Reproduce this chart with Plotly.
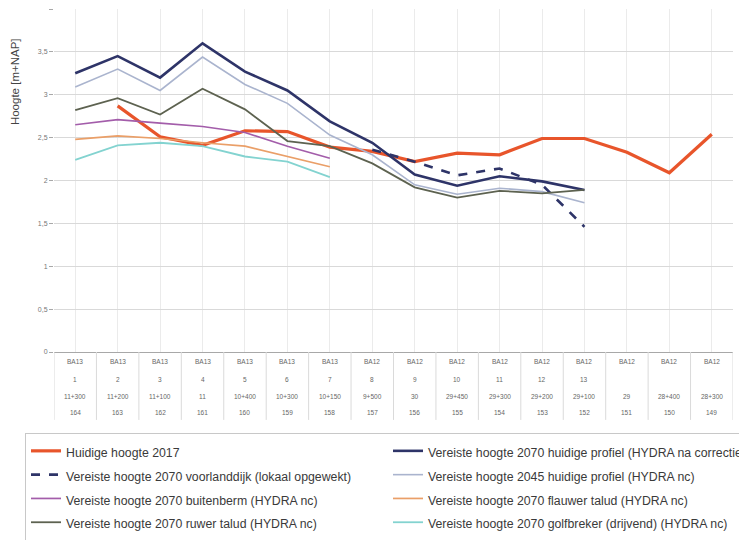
import plotly.graph_objects as go

# ---------------- data ----------------
row_dijkvak = ["BA13"] * 7 + ["BA12"] * 9
row_nr = ["1", "2", "3", "4", "5", "6", "7", "8", "9", "10", "11", "12", "13", "", "", ""]
row_paal = ["11+300", "11+200", "11+100", "11", "10+400", "10+300", "10+150", "9+500",
            "30", "29+450", "29+300", "29+200", "29+100", "29", "28+400", "28+300"]
row_code = ["164", "163", "162", "161", "160", "159", "158", "157",
            "156", "155", "154", "153", "152", "151", "150", "149"]
categories = [f"c{i}" for i in range(len(row_code))]

huidige_2017 = [None, 2.87, 2.51, 2.41, 2.58, 2.57, 2.39, 2.34, 2.22, 2.32, 2.30, 2.49, 2.49, 2.33, 2.09, 2.54]
v2070_huidig = [3.25, 3.45, 3.20, 3.60, 3.27, 3.05, 2.69, 2.44, 2.07, 1.94, 2.05, 1.99, 1.89]
v2070_voorland = [None] * 7 + [2.36, 2.22, 2.06, 2.14, 1.95, 1.46]
v2045_huidig = [3.09, 3.30, 3.05, 3.44, 3.12, 2.90, 2.53, 2.30, 1.95, 1.84, 1.91, 1.87, 1.74]
v2070_buitenberm = [2.65, 2.71, 2.67, 2.63, 2.56, 2.40, 2.26]
v2070_flauwer = [2.48, 2.52, 2.49, 2.44, 2.40, 2.28, 2.16]
v2070_ruwer = [2.82, 2.96, 2.77, 3.07, 2.83, 2.46, 2.40, 2.20, 1.92, 1.80, 1.88, 1.85, 1.89]
v2070_golfbreker = [2.24, 2.41, 2.44, 2.40, 2.28, 2.22, 2.04]

series = [
    ("Huidige hoogte 2017", huidige_2017, "#E8552B", 3.2, "solid"),
    ("Vereiste hoogte 2070 huidige profiel (HYDRA na correctie)", v2070_huidig, "#2E3468", 2.6, "solid"),
    ("Vereiste hoogte 2070 voorlanddijk (lokaal opgewekt)", v2070_voorland, "#2E3468", 2.6, "dash"),
    ("Vereiste hoogte 2045 huidige profiel (HYDRA nc)", v2045_huidig, "#AAB4CE", 1.6, "solid"),
    ("Vereiste hoogte 2070 buitenberm (HYDRA nc)", v2070_buitenberm, "#A35DAA", 1.7, "solid"),
    ("Vereiste hoogte 2070 flauwer talud (HYDRA nc)", v2070_flauwer, "#EA9F68", 1.7, "solid"),
    ("Vereiste hoogte 2070 ruwer talud (HYDRA nc)", v2070_ruwer, "#5D6250", 1.8, "solid"),
    ("Vereiste hoogte 2070 golfbreker (drijvend) (HYDRA nc)", v2070_golfbreker, "#83D3D0", 1.8, "solid"),
]

FONT = "Liberation Sans, Arial, sans-serif"

fig = go.Figure()
for name, vals, color, width, dash in series:
    fig.add_trace(go.Scatter(
        x=categories[:len(vals)], y=vals, mode="lines",
        name=f"<span style='font-size:12.3px'>{name}</span>",
        line=dict(color=color, width=width, dash=dash),
        connectgaps=False,
    ))

# table of category labels under the axis
rows = [(row_dijkvak, -0.029), (row_nr, -0.079), (row_paal, -0.131), (row_code, -0.175)]
for labels, ypos in rows:
    for cat, lab in zip(categories, labels):
        if lab:
            fig.add_annotation(x=cat, y=ypos, xref="x", yref="paper", text=lab,
                               showarrow=False, font=dict(size=6.5, color="#666666", family=FONT),
                               xanchor="center", yanchor="middle")

# vertical separators of the table
for i in range(len(categories) + 1):
    fig.add_shape(type="line", xref="x", yref="paper", x0=i - 0.5, x1=i - 0.5, y0=0, y1=-0.198,
                  line=dict(color="#DADADA", width=1))

fig.add_annotation(text="Hoogte [m+NAP]", textangle=-90, xref="paper", yref="paper",
                   x=-0.0574, y=0.787, showarrow=False, xanchor="center", yanchor="middle",
                   font=dict(size=11.5, color="#444444", family=FONT))

fig.update_layout(
    width=747, height=540,
    margin=dict(l=46, r=22, t=1, b=196, autoexpand=False),
    paper_bgcolor="white", plot_bgcolor="white",
    separators=",.",
    font=dict(family=FONT, color="#333333"),
    showlegend=True,
    legend=dict(
        orientation="h", x=-0.0427, y=-0.236, xanchor="left", yanchor="top",
        entrywidth=317, entrywidthmode="pixels",
        font=dict(size=16, color="#3A3A3A", family=FONT),
        bgcolor="white", bordercolor="#C8C8C8", borderwidth=1,
        traceorder="normal",
    ),
    xaxis=dict(type="category", categoryorder="array", categoryarray=categories,
               range=[-0.5, len(categories) - 0.5], showticklabels=False, ticks="",
               showgrid=True, gridcolor="#EBEBEB", gridwidth=1,
               showline=True, linecolor="#A8A8A8", linewidth=1, zeroline=False),
    yaxis=dict(range=[0, 4], dtick=0.5, showgrid=True, gridcolor="#D9D9D9", gridwidth=1,
               ticks="outside", ticklen=4, tickcolor="#A8A8A8",
               tickfont=dict(size=7, color="#777777", family=FONT),
               zeroline=False, showline=False),
)

fig.write_html("out.html")
